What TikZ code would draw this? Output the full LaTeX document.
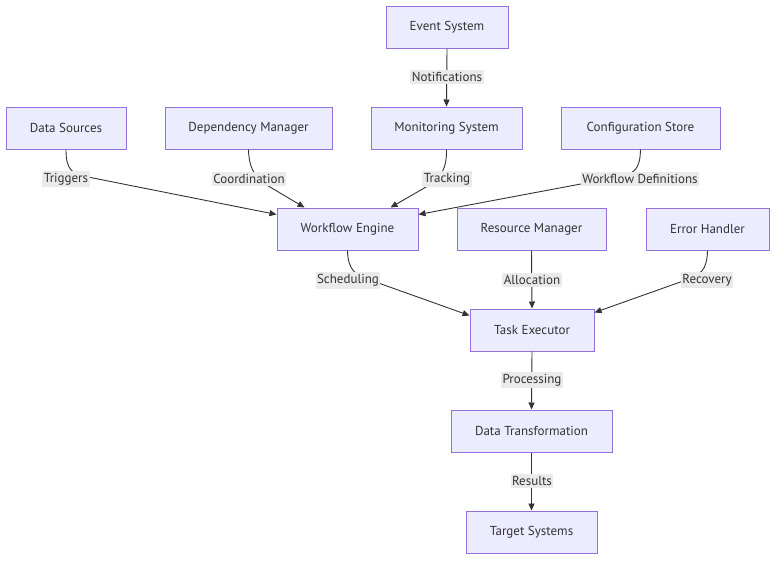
\documentclass[tikz,border=0pt]{standalone}
\usepackage{fontspec}
\setmainfont{PT Sans}
\usetikzlibrary{arrows.meta}
\definecolor{boxfill}{HTML}{ECECFF}
\definecolor{boxline}{HTML}{9370DB}
\definecolor{ink}{HTML}{333333}
\definecolor{lblbg}{HTML}{EAEAEA}
\begin{document}
\begin{tikzpicture}[x=1pt,y=-1pt,
  box/.style={draw=boxline,fill=boxfill,line width=1pt,text=ink,minimum height=42pt,inner sep=0pt,font=\fontsize{13}{15}\selectfont},
  lbl/.style={fill=lblbg,text=ink,inner xsep=1.5pt,inner ysep=2.5pt,font=\fontsize{13}{15}\selectfont},
  edge/.style={draw=ink,line width=0.9pt,-{Triangle[length=7pt,width=6pt]}}]
\path[use as bounding box] (0,0) rectangle (784,566);
\node[box,minimum width=122pt] (es) at (447,27) {Event System};
\node[box,minimum width=120pt] (ds) at (66,128) {Data Sources};
\node[box,minimum width=167pt] (dm) at (248.5,128) {Dependency Manager};
\node[box,minimum width=151pt] (ms) at (446.5,128) {Monitoring System};
\node[box,minimum width=159pt] (cs) at (640.5,128) {Configuration Store};
\node[box,minimum width=141pt] (we) at (347.5,229) {Workflow Engine};
\node[box,minimum width=149pt] (rm) at (531.5,229) {Resource Manager};
\node[box,minimum width=123pt] (eh) at (707.5,229) {Error Handler};
\node[box,minimum width=124pt] (te) at (532,330) {Task Executor};
\node[box,minimum width=161pt] (dt) at (531.5,431) {Data Transformation};
\node[box,minimum width=131pt] (ts) at (531.5,532) {Target Systems};

\coordinate (c1) at (88,177);
\coordinate (c2) at (270,187);
\coordinate (c3) at (426,187);
\coordinate (c4) at (618,177);
\coordinate (c5) at (370,280);
\coordinate (c6) at (686,280);

\draw[edge] (es.south) -- (ms.north);
\draw[edge] (ds.south) .. controls (66,170) and (72,174) .. (c1) -- ([yshift=-7pt]we.north west);
\draw[edge] (dm.south) .. controls (249,172) and (258,180) .. (c2) -- ([xshift=28pt]we.north west);
\draw[edge] (ms.south) .. controls (447,172) and (438,180) .. (c3) -- ([xshift=-28pt]we.north east);
\draw[edge] (cs.south) .. controls (640,170) and (634,174) .. (c4) -- ([yshift=-7pt]we.north east);
\draw[edge] (we.south) .. controls (348,271) and (356,275) .. (c5) -- ([yshift=-7pt]te.north west);
\draw[edge] (rm.south) -- (te.north);
\draw[edge] (eh.south) .. controls (707,271) and (700,275) .. (c6) -- ([yshift=-4pt]te.north east);
\draw[edge] (te.south) -- (dt.north);
\draw[edge] (dt.south) -- (ts.north);

\node[lbl] (l1) at (447,77) {Notifications};
\node[lbl] (l2) at (66,179) {Triggers};
\node[lbl] (l3) at (249,179) {Coordination};
\node[lbl] (l4) at (447,179) {Tracking};
\node[lbl] (l5) at (640,179) {Workflow Definitions};
\node[lbl] (l6) at (348,280) {Scheduling};
\node[lbl] (l7) at (532,280) {Allocation};
\node[lbl] (l8) at (707,280) {Recovery};
\node[lbl] (l9) at (532,380) {Processing};
\node[lbl] (l10) at (532,481) {Results};
\end{tikzpicture}
\end{document}
